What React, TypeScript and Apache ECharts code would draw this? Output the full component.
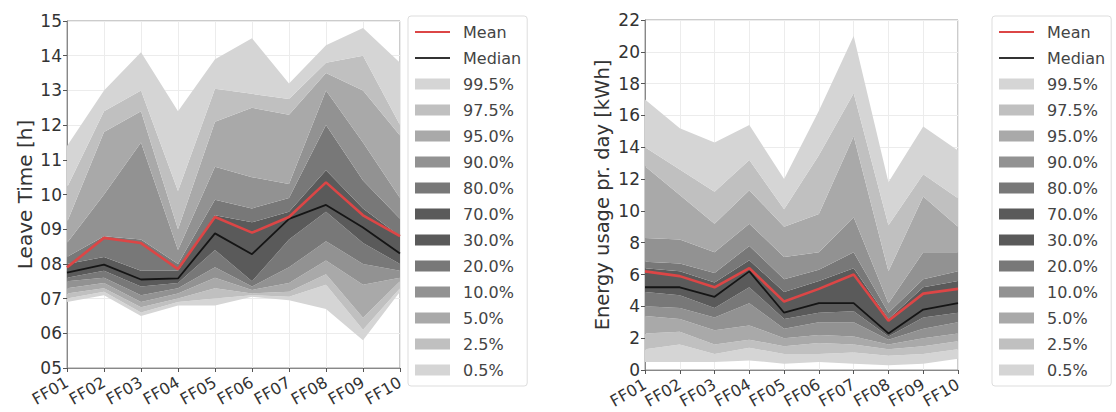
import React, { useEffect, useRef } from "react";
import * as echarts from "echarts";

const categories = ["FF01", "FF02", "FF03", "FF04", "FF05", "FF06", "FF07", "FF08", "FF09", "FF10"];

// Left chart: Leave Time [h]
const leaveMean = [7.9, 8.75, 8.6, 7.85, 9.35, 8.9, 9.35, 10.35, 9.4, 8.8];
const leaveMedian = [7.75, 7.98, 7.55, 7.58, 8.88, 8.28, 9.3, 9.7, 9.05, 8.3];
const leaveP0_5 = [6.9, 7.1, 6.5, 6.8, 6.8, 7.05, 6.95, 6.7, 5.8, 7.2];
const leaveP2_5 = [7.0, 7.2, 6.6, 6.9, 7.0, 7.1, 7.05, 7.4, 6.1, 7.3];
const leaveP5 = [7.15, 7.3, 6.75, 7.0, 7.3, 7.15, 7.2, 7.7, 6.45, 7.5];
const leaveP10 = [7.3, 7.45, 6.9, 7.15, 7.6, 7.25, 7.45, 8.1, 7.4, 7.6];
const leaveP20 = [7.5, 7.6, 7.1, 7.3, 7.9, 7.35, 7.9, 8.65, 8.0, 7.8];
const leaveP30 = [7.6, 7.8, 7.35, 7.45, 8.4, 7.5, 8.7, 9.5, 8.6, 8.0];
const leaveP70 = [8.0, 8.2, 7.8, 7.8, 9.4, 9.2, 9.5, 10.7, 9.6, 8.8];
const leaveP80 = [8.2, 8.8, 8.7, 8.0, 9.85, 9.6, 9.9, 12.0, 10.4, 9.3];
const leaveP90 = [8.6, 10.0, 11.5, 8.4, 10.8, 10.5, 10.3, 13.0, 11.5, 9.9];
const leaveP95 = [9.2, 11.8, 12.4, 9.0, 12.1, 12.5, 12.3, 13.5, 13.0, 11.7];
const leaveP97_5 = [10.2, 12.4, 13.0, 10.1, 13.05, 12.9, 12.75, 13.8, 14.0, 12.0];
const leaveP99_5 = [11.4, 13.0, 14.1, 12.4, 13.9, 14.5, 13.2, 14.3, 14.8, 13.8];

// Right chart: Energy usage pr. day [kWh]
const energyMean = [6.2, 5.9, 5.2, 6.4, 4.3, 5.1, 6.0, 3.1, 4.8, 5.1];
const energyMedian = [5.2, 5.2, 4.6, 6.2, 3.6, 4.2, 4.2, 2.3, 3.8, 4.2];
const energyP0_5 = [0.5, 0.5, 0.5, 0.6, 0.4, 0.5, 0.4, 0.3, 0.4, 0.7];
const energyP2_5 = [1.3, 1.6, 1.0, 1.4, 1.0, 1.0, 1.1, 0.9, 1.0, 1.3];
const energyP5 = [2.3, 2.4, 1.6, 1.9, 1.5, 1.7, 1.6, 1.3, 1.5, 1.8];
const energyP10 = [3.4, 3.2, 2.5, 2.8, 2.0, 2.2, 2.1, 1.6, 2.0, 2.3];
const energyP20 = [4.0, 3.9, 3.3, 4.2, 2.6, 3.0, 3.0, 1.9, 2.6, 3.0];
const energyP30 = [4.9, 4.7, 3.9, 5.2, 3.2, 3.6, 3.7, 2.1, 3.3, 3.6];
const energyP70 = [6.4, 6.2, 5.5, 6.9, 4.9, 5.6, 6.4, 3.2, 5.2, 5.6];
const energyP80 = [6.8, 6.7, 6.1, 7.8, 5.7, 6.3, 7.4, 3.6, 5.7, 6.2];
const energyP90 = [8.3, 8.2, 7.4, 9.2, 7.1, 7.4, 9.6, 4.2, 7.4, 7.4];
const energyP95 = [12.8, 11.0, 9.2, 11.3, 9.0, 9.8, 14.7, 6.2, 10.9, 9.0];
const energyP97_5 = [14.0, 12.6, 11.2, 13.2, 10.1, 13.5, 17.4, 9.1, 12.3, 10.8];
const energyP99_5 = [17.0, 15.2, 14.3, 15.4, 12.0, 16.3, 21.0, 11.8, 15.3, 13.8];

const bandNames = ["0.5%", "2.5%", "5.0%", "10.0%", "20.0%", "30.0%", "70.0%", "80.0%", "90.0%", "95.0%", "97.5%", "99.5%"];
const bandColors = ["#d5d5d5", "#c0c0c0", "#a9a9a9", "#929292", "#787878", "#5a5a5a", "#5a5a5a", "#787878", "#929292", "#a9a9a9", "#c0c0c0", "#d5d5d5"];
const legendOrder = ["Mean", "Median", "99.5%", "97.5%", "95.0%", "90.0%", "80.0%", "70.0%", "30.0%", "20.0%", "10.0%", "5.0%", "2.5%", "0.5%"];

const MEAN_COLOR = "#dc4646";
const MEDIAN_COLOR = "#151515";

const leaveLevels = [leaveP0_5, leaveP2_5, leaveP5, leaveP10, leaveP20, leaveP30, leaveMedian, leaveP70, leaveP80, leaveP90, leaveP95, leaveP97_5, leaveP99_5];
const energyLevels = [energyP0_5, energyP2_5, energyP5, energyP10, energyP20, energyP30, energyMedian, energyP70, energyP80, energyP90, energyP95, energyP97_5, energyP99_5];

function buildSeries(levels: number[][], mean: number[], median: number[], idx: number) {
  const stack = "s" + idx;
  const out: any[] = [];
  out.push({
    type: "line",
    name: "__base" + idx,
    xAxisIndex: idx,
    yAxisIndex: idx,
    stack,
    data: levels[0],
    symbol: "none",
    lineStyle: { width: 0, opacity: 0 },
    silent: true,
    z: 1,
  });
  for (let b = 0; b < bandNames.length; b++) {
    const lo = levels[b];
    const hi = levels[b + 1];
    out.push({
      type: "line",
      name: bandNames[b],
      xAxisIndex: idx,
      yAxisIndex: idx,
      stack,
      data: hi.map((v, i) => +(v - lo[i]).toFixed(4)),
      symbol: "none",
      lineStyle: { width: 0, opacity: 0 },
      itemStyle: { color: bandColors[b] },
      areaStyle: { color: bandColors[b], opacity: 1 },
      silent: true,
      z: 2,
    });
  }
  out.push({
    type: "line",
    name: "Median",
    xAxisIndex: idx,
    yAxisIndex: idx,
    data: median,
    symbol: "none",
    showSymbol: false,
    lineStyle: { color: MEDIAN_COLOR, width: 1.8 },
    itemStyle: { color: MEDIAN_COLOR },
    z: 5,
  });
  out.push({
    type: "line",
    name: "Mean",
    xAxisIndex: idx,
    yAxisIndex: idx,
    data: mean,
    symbol: "none",
    showSymbol: false,
    lineStyle: { color: MEAN_COLOR, width: 2.6 },
    itemStyle: { color: MEAN_COLOR },
    z: 6,
  });
  return out;
}

const lineIcon = "path://M0,0L35,0L35,2L0,2Z";

function legendData() {
  return legendOrder.map((n) => {
    if (n === "Mean") return { name: n, icon: lineIcon, itemStyle: { color: MEAN_COLOR, borderWidth: 0 } };
    if (n === "Median") return { name: n, icon: lineIcon, itemStyle: { color: "#333333", borderWidth: 0 } };
    const c = bandColors[bandNames.indexOf(n)];
    return { name: n, icon: "rect", itemStyle: { color: c, borderWidth: 0 } };
  });
}

function makeLegend(left: number) {
  return {
    orient: "vertical",
    left,
    top: 16,
    data: legendData(),
    itemWidth: 35,
    itemHeight: 11,
    itemGap: 10,
    symbolKeepAspect: true,
    padding: [8, 6, 8, 7],
    borderColor: "#dddddd",
    borderWidth: 1,
    borderRadius: 3,
    selectedMode: false,
    textStyle: { fontFamily: "DejaVu Sans", fontSize: 16, color: "#444444", lineHeight: 15, padding: [0, 0, 0, 8] },
  };
}

const axisLabelY = { fontFamily: "DejaVu Sans", fontSize: 17, color: "#333333", margin: 5 };

export default function App() {
  const ref = useRef<HTMLDivElement>(null);
  useEffect(() => {
    if (!ref.current) return;
    const chart = echarts.init(ref.current, undefined, { renderer: "svg" });
    const xAxisBase = (gridIndex: number) => ({
      type: "category",
      gridIndex,
      data: categories,
      boundaryGap: false,
      axisLine: { show: true, lineStyle: { color: "#888888" } },
      axisTick: { show: true, length: 4, lineStyle: { color: "#555555" } },
      axisLabel: { fontFamily: "DejaVu Sans", fontSize: 16, color: "#333333", rotate: 30, margin: 13, interval: 0 },
      splitLine: { show: true, lineStyle: { color: "#ececec", width: 1 } },
    });
    chart.setOption({
      animation: false,
      backgroundColor: "#ffffff",
      grid: [
        { left: 67, top: 21, width: 333, height: 347, show: true, borderColor: "#999999", borderWidth: 1, backgroundColor: "transparent" },
        { left: 645, top: 20, width: 313, height: 350, show: true, borderColor: "#999999", borderWidth: 1, backgroundColor: "transparent" },
      ],
      legend: [makeLegend(408), makeLegend(992)],
      xAxis: [xAxisBase(0), xAxisBase(1)],
      yAxis: [
        {
          type: "value",
          gridIndex: 0,
          min: 5,
          max: 15,
          interval: 1,
          name: "Leave Time [h]",
          nameLocation: "middle",
          nameGap: 32,
          nameTextStyle: { fontFamily: "DejaVu Sans", fontSize: 20, color: "#333333" },
          axisLine: { show: true, lineStyle: { color: "#888888" } },
          axisTick: { show: true, length: 4, lineStyle: { color: "#555555" } },
          axisLabel: { ...axisLabelY, formatter: (v: number) => (v < 10 ? "0" + v : "" + v) },
          splitLine: { show: true, lineStyle: { color: "#ececec", width: 1 } },
        },
        {
          type: "value",
          gridIndex: 1,
          min: 0,
          max: 22,
          interval: 2,
          name: "Energy usage pr. day [kWh]",
          nameLocation: "middle",
          nameGap: 33,
          nameTextStyle: { fontFamily: "DejaVu Sans", fontSize: 19.5, color: "#333333" },
          axisLine: { show: true, lineStyle: { color: "#888888" } },
          axisTick: { show: true, length: 4, lineStyle: { color: "#555555" } },
          axisLabel: axisLabelY,
          splitLine: { show: true, lineStyle: { color: "#ececec", width: 1 } },
        },
      ],
      series: [
        ...buildSeries(leaveLevels, leaveMean, leaveMedian, 0),
        ...buildSeries(energyLevels, energyMean, energyMedian, 1),
      ],
    });
    return () => chart.dispose();
  }, []);
  return <div ref={ref} style={{ position: "fixed", left: 0, top: 0, width: 1116, height: 412 }} />;
}
